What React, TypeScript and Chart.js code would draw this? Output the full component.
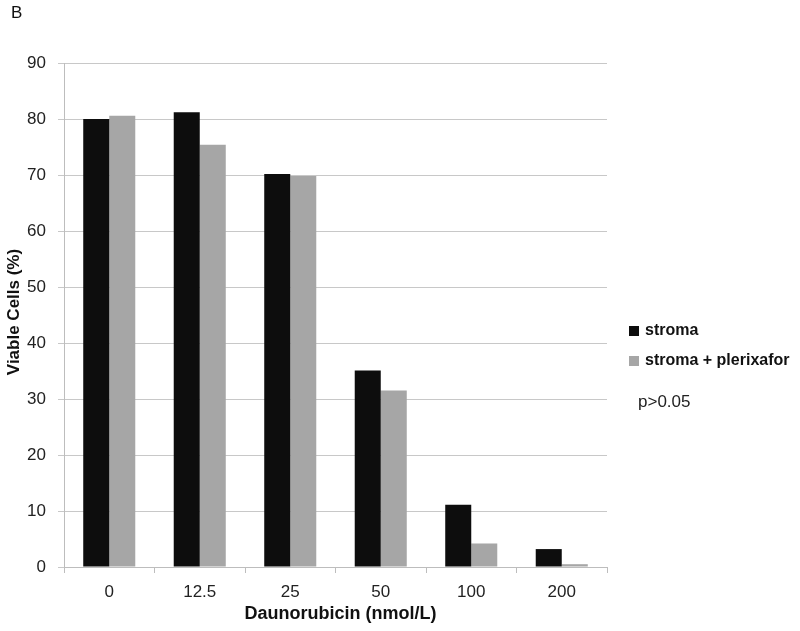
import React, { useEffect, useRef } from "react";
import { Chart, registerables } from "chart.js";

Chart.register(...registerables);

const categories = ["0", "12.5", "25", "50", "100", "200"];
const stromaValues = [80, 81.2, 70.2, 35.1, 11.1, 3.2];
const plerixaforValues = [80.6, 75.4, 69.8, 31.5, 4.2, 0.5];
const seriesNames = ["stroma", "stroma + plerixafor"];
const seriesColors = ["#0d0d0d", "#a6a6a6"];
const panelLabel = "B";
const xTitle = "Daunorubicin (nmol/L)";
const yTitle = "Viable Cells (%)";
const note = "p>0.05";

const FONT = "'Liberation Sans', Arial, sans-serif";

const overlayPlugin = {
  id: "overlay",
  afterDraw(chart: any) {
    const ctx = chart.ctx;
    const area = chart.chartArea;
    ctx.save();
    // panel label
    ctx.fillStyle = "#111";
    ctx.font = `17px ${FONT}`;
    ctx.textAlign = "left";
    ctx.textBaseline = "middle";
    ctx.fillText(panelLabel, 11, 13);
    // y title
    ctx.save();
    ctx.translate(14, 312);
    ctx.rotate(-Math.PI / 2);
    ctx.font = `bold 17px ${FONT}`;
    ctx.textAlign = "center";
    ctx.textBaseline = "middle";
    ctx.fillText(yTitle, 0, 0);
    ctx.restore();
    // x title
    ctx.font = `bold 18px ${FONT}`;
    ctx.textAlign = "center";
    ctx.textBaseline = "middle";
    ctx.fillText(xTitle, (area.left + area.right) / 2 + 5, 614);
    // legend
    const lx = area.right + 22;
    const ys = [331, 361];
    ctx.font = `bold 16px ${FONT}`;
    ctx.textAlign = "left";
    seriesNames.forEach((n, i) => {
      ctx.fillStyle = seriesColors[i];
      ctx.fillRect(lx, ys[i] - 5, 10, 10);
      ctx.fillStyle = "#111";
      ctx.fillText(n, lx + 16, ys[i]);
    });
    ctx.font = `17px ${FONT}`;
    ctx.fillStyle = "#222";
    ctx.fillText(note, lx + 9, 402);
    ctx.restore();
  },
};

export default function App() {
  const ref = useRef<HTMLCanvasElement>(null);
  useEffect(() => {
    if (!ref.current) return;
    const chart = new Chart(ref.current, {
      type: "bar",
      data: {
        labels: categories,
        datasets: [
          {
            label: seriesNames[0],
            data: stromaValues,
            backgroundColor: seriesColors[0],
            categoryPercentage: 0.575,
            barPercentage: 1,
          },
          {
            label: seriesNames[1],
            data: plerixaforValues,
            backgroundColor: seriesColors[1],
            categoryPercentage: 0.575,
            barPercentage: 1,
          },
        ],
      },
      options: {
        animation: false,
        responsive: false,
        maintainAspectRatio: false,
        layout: { padding: { top: 63, right: 193, left: 0, bottom: 0 } },
        plugins: { legend: { display: false }, tooltip: { enabled: false } },
        scales: {
          x: {
            grid: {
              display: true,
              drawOnChartArea: false,
              drawTicks: true,
              tickLength: 6,
              color: "#bdbdbd",
              offset: true,
            },
            border: { display: true, color: "#bdbdbd" },
            ticks: { font: { family: FONT, size: 17 }, color: "#222", padding: 9 },
            afterFit: (s: any) => {
              s.height = 64;
            },
          },
          y: {
            min: 0,
            max: 90,
            ticks: { stepSize: 10, font: { family: FONT, size: 17 }, color: "#222", padding: 12 },
            grid: { color: "#c8c8c8", tickLength: 6, drawTicks: true },
            border: { display: true, color: "#bdbdbd" },
            afterFit: (s: any) => {
              s.width = 64;
            },
          },
        },
      },
      plugins: [overlayPlugin],
    });
    return () => chart.destroy();
  }, []);
  return (
    <div style={{ position: "fixed", left: 0, top: 0, width: 800, height: 631, background: "#fff" }}>
      <canvas ref={ref} width={800} height={631} style={{ width: 800, height: 631 }} />
    </div>
  );
}
